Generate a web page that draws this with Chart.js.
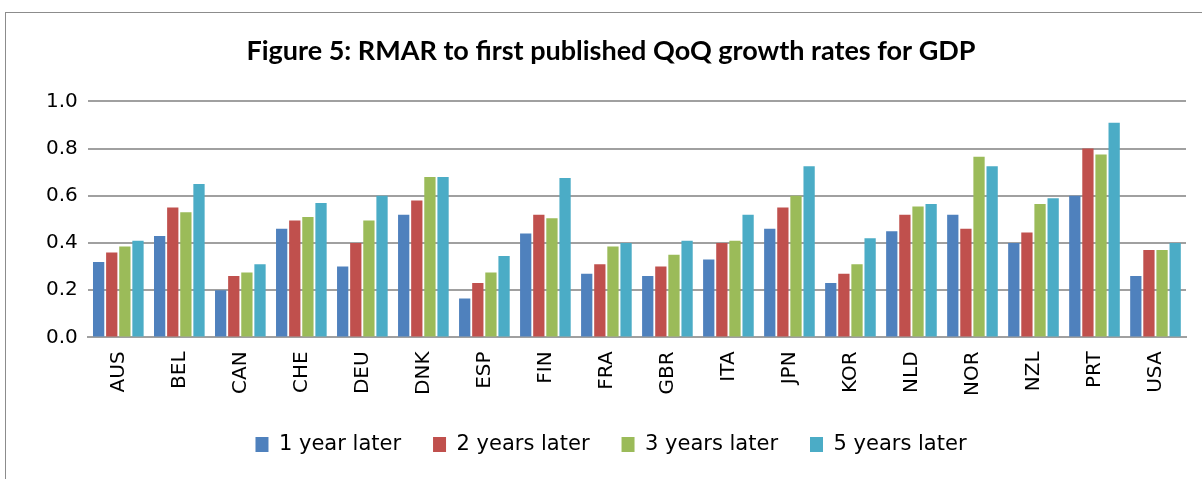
<!DOCTYPE html>
<html>
<head>
<meta charset="utf-8">
<script src="https://cdn.jsdelivr.net/npm/chart.js@4/dist/chart.umd.min.js"></script>
<style>
  html, body { margin: 0; padding: 0; background: #fff; }
  #wrap { position: relative; width: 1202px; height: 479px; overflow: hidden; }
  #frame { position: absolute; left: 5px; top: 12px; width: 1300px; height: 600px;
           border-left: 1px solid #8c8c8c; border-top: 1px solid #8c8c8c; }
  #chart { position: absolute; left: 0; top: 0; }
</style>
</head>
<body>
<div id="wrap">
  <div id="frame"></div>
  <canvas id="chart" width="1202" height="479"></canvas>
</div>
<script>
// === Data ===
const countries = ['AUS', 'BEL', 'CAN', 'CHE', 'DEU', 'DNK', 'ESP', 'FIN', 'FRA',
                   'GBR', 'ITA', 'JPN', 'KOR', 'NLD', 'NOR', 'NZL', 'PRT', 'USA'];

const oneYear   = [0.32, 0.43, 0.20, 0.46, 0.30, 0.52, 0.165, 0.44, 0.27, 0.26, 0.33, 0.46, 0.23, 0.45, 0.52, 0.40, 0.60, 0.26];
const twoYears  = [0.36, 0.55, 0.26, 0.495, 0.40, 0.58, 0.23, 0.52, 0.31, 0.30, 0.40, 0.55, 0.27, 0.52, 0.46, 0.445, 0.80, 0.37];
const threeYears = [0.385, 0.53, 0.275, 0.51, 0.495, 0.68, 0.275, 0.505, 0.385, 0.35, 0.41, 0.60, 0.31, 0.555, 0.765, 0.565, 0.775, 0.37];
const fiveYears = [0.41, 0.65, 0.31, 0.57, 0.60, 0.68, 0.345, 0.675, 0.40, 0.41, 0.52, 0.725, 0.42, 0.565, 0.725, 0.59, 0.91, 0.40];

const yTicks = [0.0, 0.2, 0.4, 0.6, 0.8, 1.0];

const seriesNames = ['1 year later', '2 years later', '3 years later', '5 years later'];
const seriesColors = ['#4F81BD', '#C0504D', '#9BBB59', '#4BACC6'];

// === Chart ===
const tickFont = { family: '"DejaVu Sans", Verdana, sans-serif', size: 20 };
const legendFont = { family: '"DejaVu Sans", Verdana, sans-serif', size: 21 };

const datasets = [oneYear, twoYears, threeYears, fiveYears].map((values, i) => ({
    label: seriesNames[i],
    data: values,
    backgroundColor: seriesColors[i],
    borderWidth: 0,
    barPercentage: 0.86,
    categoryPercentage: 0.86
}));

new Chart(document.getElementById('chart'), {
    type: 'bar',
    data: { labels: countries, datasets: datasets },
    options: {
        responsive: false,
        animation: false,
        layout: { padding: { top: 12, left: 36, right: 16, bottom: 14 } },
        plugins: {
            title: {
                display: true,
                text: 'Figure 5: RMAR to first published QoQ growth rates for GDP',
                color: '#000',
                font: { family: 'Lato, "Open Sans", sans-serif', size: 27, weight: 'bold' },
                padding: { top: 23, bottom: 34 }
            },
            legend: {
                position: 'bottom',
                labels: {
                    color: '#000',
                    font: legendFont,
                    boxWidth: 13,
                    boxHeight: 15,
                    padding: 32
                }
            },
            tooltip: { enabled: false }
        },
        scales: {
            x: {
                grid: { display: false },
                border: { display: true, color: '#a0a0a0', width: 2 },
                ticks: {
                    color: '#000',
                    font: tickFont,
                    minRotation: 90,
                    maxRotation: 90,
                    padding: 6
                }
            },
            y: {
                min: 0,
                max: 1,
                afterBuildTicks: axis => { axis.ticks = yTicks.map(v => ({ value: v })); },
                grid: { color: '#a0a0a0', lineWidth: 2, drawTicks: false },
                border: { display: false },
                ticks: {
                    color: '#000',
                    font: tickFont,
                    padding: 10,
                    callback: v => v.toFixed(1)
                }
            }
        }
    }
});
</script>
</body>
</html>
